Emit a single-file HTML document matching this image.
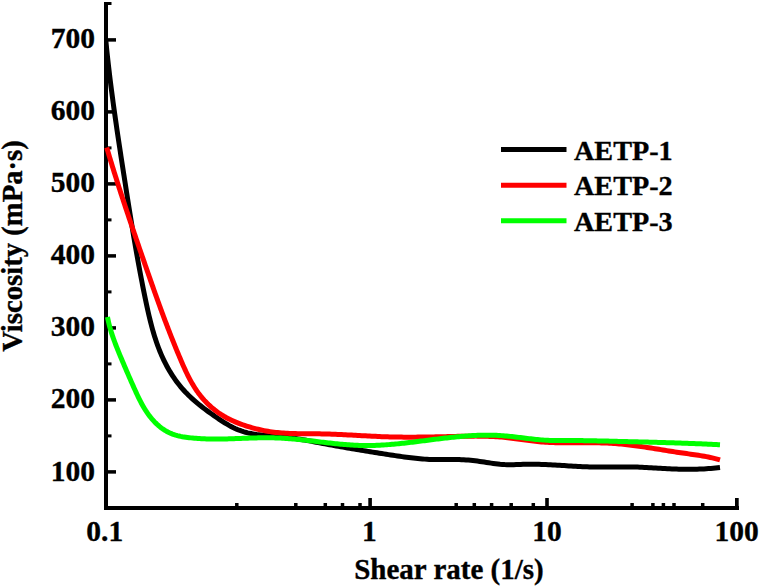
<!DOCTYPE html>
<html><head><meta charset="utf-8"><style>
html,body{margin:0;padding:0;background:#fff;width:760px;height:587px;overflow:hidden}
svg{display:block}
text{font-family:"Liberation Serif",serif;font-weight:bold;fill:#000;stroke:#000;stroke-width:0.35px}
</style></head><body>
<svg width="760" height="587" viewBox="0 0 760 587">
<!-- axes -->
<g fill="#000">
<rect x="104" y="2" width="4" height="508"/>
<rect x="104" y="506" width="635" height="4"/>
<rect x="108" y="2" width="3.5" height="3"/>
<!-- y major ticks -->
<rect x="108" y="38.15" width="8" height="3.5"/>
<rect x="108" y="110.15" width="8" height="3.5"/>
<rect x="108" y="182.15" width="8" height="3.5"/>
<rect x="108" y="254.15" width="8" height="3.5"/>
<rect x="108" y="326.15" width="8" height="3.5"/>
<rect x="108" y="398.15" width="8" height="3.5"/>
<rect x="108" y="470.15" width="8" height="3.5"/>
<!-- y minor ticks -->
<rect x="108" y="74.40" width="3.5" height="3"/>
<rect x="108" y="146.40" width="3.5" height="3"/>
<rect x="108" y="218.40" width="3.5" height="3"/>
<rect x="108" y="290.40" width="3.5" height="3"/>
<rect x="108" y="362.40" width="3.5" height="3"/>
<rect x="108" y="434.40" width="3.5" height="3"/>
<!-- x major ticks -->
<rect x="368.3" y="498" width="3.6" height="8"/>
<rect x="545.2" y="498" width="3.6" height="8"/>
<rect x="735" y="498" width="3.7" height="8"/>
<!-- x minor ticks -->
<rect x="235.05" y="503" width="3.5" height="3"/>
<rect x="294.05" y="503" width="3.5" height="3"/>
<rect x="323.55" y="503" width="3.5" height="3"/>
<rect x="340.75" y="503" width="3.5" height="3"/>
<rect x="358.25" y="503" width="3.5" height="3"/>
<rect x="454.45" y="503" width="3.5" height="3"/>
<rect x="472.55" y="503" width="3.5" height="3"/>
<rect x="489.85" y="503" width="3.5" height="3"/>
<rect x="509.45" y="503" width="3.5" height="3"/>
<rect x="531.55" y="503" width="3.5" height="3"/>
<rect x="630.35" y="503" width="3.5" height="3"/>
<rect x="651.15" y="503" width="3.5" height="3"/>
<rect x="661.65" y="503" width="3.5" height="3"/>
<rect x="672.25" y="503" width="3.5" height="3"/>
<rect x="700.95" y="503" width="3.5" height="3"/>
</g>
<!-- curves -->
<clipPath id="cp"><rect x="104" y="0" width="660" height="587"/></clipPath>
<g clip-path="url(#cp)" fill="none" stroke-width="5" stroke-linejoin="round" stroke-linecap="butt">
<path id="black" stroke="#000" d="M105.78,40.03 L106.00,42.30 L106.23,44.58 L106.46,46.86 L106.69,49.14 L106.92,51.41 L107.16,53.69 L107.41,55.97 L107.66,58.24 L107.91,60.52 L108.16,62.80 L108.42,65.08 L108.68,67.35 L108.95,69.63 L109.22,71.91 L109.49,74.18 L109.77,76.46 L110.04,78.73 L110.33,81.01 L110.61,83.29 L110.90,85.56 L111.19,87.84 L111.48,90.11 L111.78,92.39 L112.08,94.66 L112.38,96.94 L112.69,99.21 L112.99,101.49 L113.30,103.76 L113.62,106.04 L113.93,108.31 L114.25,110.59 L114.57,112.86 L114.89,115.13 L115.21,117.41 L115.53,119.68 L115.86,121.95 L116.19,124.23 L116.52,126.50 L116.85,128.77 L117.19,131.04 L117.52,133.32 L117.86,135.59 L118.20,137.86 L118.54,140.13 L118.88,142.40 L119.22,144.67 L119.56,146.94 L119.91,149.21 L120.25,151.48 L120.60,153.75 L120.95,156.02 L121.30,158.29 L121.65,160.56 L122.00,162.82 L122.35,165.09 L122.70,167.36 L123.05,169.63 L123.40,171.89 L123.75,174.16 L124.11,176.42 L124.46,178.69 L124.81,180.96 L125.17,183.22 L125.52,185.49 L125.87,187.75 L126.23,190.01 L126.58,192.28 L126.94,194.54 L127.29,196.80 L127.65,199.07 L128.01,201.33 L128.37,203.59 L128.73,205.85 L129.09,208.11 L129.45,210.38 L129.81,212.64 L130.18,214.90 L130.54,217.16 L130.91,219.42 L131.28,221.68 L131.65,223.94 L132.02,226.20 L132.39,228.46 L132.77,230.72 L133.14,232.97 L133.52,235.23 L133.90,237.49 L134.29,239.75 L134.67,242.01 L135.06,244.27 L135.45,246.53 L135.84,248.78 L136.24,251.04 L136.63,253.30 L137.04,255.56 L137.44,257.81 L137.84,260.07 L138.25,262.33 L138.66,264.59 L139.08,266.84 L139.50,269.10 L139.92,271.36 L140.34,273.61 L140.77,275.87 L141.20,278.13 L141.64,280.38 L142.08,282.64 L142.52,284.90 L142.96,287.15 L143.41,289.41 L143.87,291.67 L144.33,293.92 L144.79,296.18 L145.25,298.44 L145.73,300.70 L146.20,302.95 L146.68,305.21 L147.17,307.46 L147.66,309.72 L148.17,311.97 L148.68,314.22 L149.21,316.46 L149.74,318.70 L150.29,320.94 L150.86,323.17 L151.44,325.40 L152.03,327.62 L152.65,329.83 L153.28,332.04 L153.93,334.24 L154.60,336.43 L155.30,338.61 L156.01,340.79 L156.75,342.95 L157.52,345.11 L158.31,347.25 L159.13,349.38 L159.97,351.50 L160.85,353.61 L161.75,355.70 L162.69,357.78 L163.65,359.85 L164.66,361.91 L165.69,363.94 L166.76,365.96 L167.86,367.97 L169.00,369.95 L170.16,371.92 L171.37,373.86 L172.61,375.79 L173.88,377.69 L175.18,379.56 L176.52,381.41 L177.90,383.24 L179.31,385.04 L180.75,386.81 L182.23,388.55 L183.75,390.26 L185.30,391.94 L186.89,393.58 L188.50,395.20 L190.15,396.79 L191.83,398.35 L193.54,399.88 L195.27,401.39 L197.03,402.88 L198.81,404.34 L200.61,405.78 L202.43,407.20 L204.26,408.61 L206.11,409.99 L207.97,411.37 L209.84,412.72 L211.73,414.06 L213.62,415.40 L215.51,416.72 L217.41,418.03 L219.31,419.32 L221.23,420.60 L223.15,421.84 L225.09,423.06 L227.04,424.23 L229.01,425.37 L231.00,426.45 L233.00,427.49 L235.03,428.46 L237.08,429.37 L239.16,430.21 L241.27,430.97 L243.41,431.66 L245.57,432.28 L247.76,432.83 L249.97,433.32 L252.20,433.76 L254.44,434.14 L256.71,434.49 L258.99,434.79 L261.28,435.06 L263.58,435.30 L265.90,435.52 L268.21,435.72 L270.54,435.90 L272.86,436.09 L275.18,436.27 L277.51,436.45 L279.83,436.64 L282.14,436.85 L284.45,437.07 L286.74,437.32 L289.03,437.60 L291.31,437.90 L293.58,438.22 L295.84,438.56 L298.10,438.92 L300.35,439.29 L302.59,439.68 L304.84,440.08 L307.08,440.49 L309.31,440.91 L311.55,441.33 L313.79,441.76 L316.02,442.19 L318.26,442.62 L320.50,443.04 L322.74,443.47 L324.99,443.89 L327.24,444.31 L329.49,444.73 L331.74,445.14 L334.00,445.55 L336.25,445.95 L338.51,446.36 L340.77,446.76 L343.03,447.16 L345.30,447.55 L347.56,447.95 L349.83,448.34 L352.10,448.72 L354.37,449.11 L356.64,449.49 L358.91,449.87 L361.18,450.25 L363.45,450.62 L365.72,451.00 L367.99,451.37 L370.26,451.73 L372.54,452.10 L374.81,452.46 L377.08,452.82 L379.35,453.18 L381.62,453.54 L383.89,453.89 L386.16,454.25 L388.42,454.60 L390.69,454.95 L392.95,455.29 L395.22,455.64 L397.48,455.97 L399.74,456.30 L402.01,456.63 L404.27,456.94 L406.53,457.25 L408.80,457.54 L411.06,457.81 L413.33,458.08 L415.60,458.33 L417.87,458.56 L420.14,458.77 L422.41,458.96 L424.69,459.13 L426.97,459.27 L429.25,459.40 L431.54,459.49 L433.83,459.56 L436.12,459.60 L438.42,459.62 L440.72,459.62 L443.02,459.60 L445.33,459.57 L447.63,459.54 L449.94,459.52 L452.25,459.50 L454.55,459.50 L456.85,459.52 L459.15,459.57 L461.45,459.65 L463.74,459.77 L466.03,459.92 L468.32,460.10 L470.61,460.30 L472.89,460.54 L475.17,460.80 L477.44,461.09 L479.72,461.40 L481.99,461.73 L484.26,462.08 L486.53,462.43 L488.80,462.78 L491.06,463.13 L493.33,463.46 L495.60,463.76 L497.87,464.04 L500.14,464.28 L502.42,464.47 L504.69,464.61 L506.98,464.70 L509.26,464.73 L511.55,464.72 L513.84,464.68 L516.13,464.61 L518.42,464.53 L520.72,464.44 L523.01,464.36 L525.31,464.30 L527.60,464.25 L529.89,464.23 L532.18,464.23 L534.47,464.25 L536.77,464.28 L539.06,464.33 L541.35,464.40 L543.63,464.48 L545.92,464.57 L548.21,464.68 L550.50,464.79 L552.79,464.91 L555.08,465.04 L557.36,465.17 L559.65,465.31 L561.94,465.45 L564.23,465.60 L566.51,465.74 L568.80,465.88 L571.09,466.02 L573.37,466.16 L575.66,466.29 L577.95,466.42 L580.24,466.53 L582.53,466.64 L584.81,466.74 L587.10,466.83 L589.39,466.90 L591.68,466.96 L593.97,467.00 L596.26,467.03 L598.55,467.05 L600.84,467.06 L603.14,467.06 L605.43,467.05 L607.72,467.03 L610.01,467.01 L612.30,466.99 L614.60,466.97 L616.89,466.94 L619.18,466.93 L621.47,466.91 L623.77,466.91 L626.06,466.91 L628.35,466.92 L630.64,466.94 L632.94,466.98 L635.23,467.03 L637.52,467.10 L639.81,467.19 L642.10,467.29 L644.39,467.40 L646.68,467.53 L648.97,467.66 L651.27,467.80 L653.56,467.94 L655.85,468.08 L658.14,468.22 L660.43,468.36 L662.72,468.49 L665.02,468.61 L667.31,468.73 L669.60,468.83 L671.89,468.93 L674.19,469.02 L676.48,469.09 L678.77,469.16 L681.07,469.21 L683.36,469.25 L685.65,469.28 L687.94,469.29 L690.24,469.28 L692.53,469.26 L694.82,469.22 L697.11,469.17 L699.40,469.10 L701.69,469.00 L703.98,468.89 L706.27,468.76 L708.56,468.60 L710.85,468.43 L713.14,468.23 L715.43,468.00 L717.72,467.75 L720.00,467.48"/>
<path id="red" stroke="#f00" d="M106.75,147.53 L107.31,149.45 L107.87,151.36 L108.44,153.28 L109.01,155.19 L109.58,157.11 L110.16,159.02 L110.73,160.93 L111.32,162.84 L111.90,164.75 L112.49,166.67 L113.07,168.58 L113.67,170.49 L114.26,172.40 L114.86,174.31 L115.46,176.21 L116.06,178.12 L116.66,180.03 L117.27,181.94 L117.87,183.85 L118.48,185.75 L119.10,187.66 L119.71,189.56 L120.33,191.47 L120.95,193.38 L121.57,195.28 L122.19,197.18 L122.81,199.09 L123.44,200.99 L124.07,202.89 L124.69,204.80 L125.32,206.70 L125.96,208.60 L126.59,210.50 L127.23,212.40 L127.86,214.30 L128.50,216.20 L129.14,218.10 L129.78,220.00 L130.42,221.90 L131.06,223.80 L131.71,225.70 L132.35,227.59 L133.00,229.49 L133.64,231.39 L134.29,233.28 L134.94,235.18 L135.59,237.07 L136.24,238.97 L136.89,240.86 L137.54,242.76 L138.19,244.65 L138.84,246.55 L139.49,248.44 L140.14,250.33 L140.80,252.22 L141.45,254.12 L142.10,256.01 L142.76,257.90 L143.41,259.79 L144.06,261.68 L144.72,263.57 L145.37,265.46 L146.03,267.35 L146.68,269.24 L147.34,271.12 L147.99,273.01 L148.65,274.90 L149.31,276.78 L149.96,278.67 L150.62,280.56 L151.28,282.44 L151.94,284.33 L152.61,286.21 L153.27,288.09 L153.94,289.98 L154.60,291.86 L155.27,293.74 L155.94,295.62 L156.61,297.50 L157.29,299.38 L157.96,301.26 L158.64,303.14 L159.32,305.01 L160.00,306.89 L160.69,308.77 L161.38,310.64 L162.07,312.52 L162.76,314.39 L163.46,316.26 L164.15,318.14 L164.85,320.01 L165.56,321.88 L166.27,323.75 L166.98,325.62 L167.69,327.49 L168.41,329.35 L169.13,331.22 L169.85,333.08 L170.58,334.95 L171.31,336.81 L172.05,338.68 L172.79,340.54 L173.53,342.40 L174.28,344.26 L175.03,346.12 L175.79,347.97 L176.55,349.83 L177.32,351.69 L178.09,353.54 L178.86,355.40 L179.64,357.25 L180.43,359.10 L181.22,360.95 L182.01,362.80 L182.82,364.64 L183.63,366.48 L184.45,368.32 L185.29,370.15 L186.15,371.96 L187.01,373.77 L187.90,375.57 L188.81,377.36 L189.73,379.13 L190.68,380.88 L191.66,382.62 L192.66,384.35 L193.69,386.05 L194.75,387.73 L195.84,389.40 L196.96,391.04 L198.11,392.65 L199.30,394.24 L200.52,395.81 L201.78,397.34 L203.06,398.85 L204.38,400.34 L205.74,401.79 L207.12,403.21 L208.53,404.60 L209.98,405.95 L211.46,407.27 L212.97,408.56 L214.51,409.81 L216.08,411.02 L217.68,412.20 L219.31,413.34 L220.96,414.43 L222.65,415.49 L224.37,416.51 L226.11,417.49 L227.87,418.43 L229.66,419.34 L231.47,420.21 L233.30,421.05 L235.14,421.85 L237.00,422.63 L238.88,423.37 L240.77,424.08 L242.67,424.77 L244.59,425.42 L246.51,426.05 L248.44,426.65 L250.37,427.23 L252.31,427.79 L254.25,428.32 L256.20,428.82 L258.15,429.30 L260.10,429.75 L262.06,430.18 L264.02,430.58 L265.98,430.95 L267.94,431.30 L269.91,431.62 L271.88,431.91 L273.86,432.17 L275.83,432.40 L277.81,432.61 L279.79,432.80 L281.77,432.96 L283.75,433.10 L285.74,433.23 L287.72,433.33 L289.71,433.42 L291.70,433.50 L293.69,433.56 L295.68,433.61 L297.68,433.65 L299.67,433.68 L301.67,433.71 L303.66,433.73 L305.66,433.74 L307.66,433.75 L309.66,433.76 L311.65,433.77 L313.65,433.79 L315.65,433.80 L317.65,433.83 L319.65,433.85 L321.65,433.89 L323.65,433.93 L325.65,433.98 L327.65,434.04 L329.66,434.10 L331.66,434.17 L333.66,434.25 L335.66,434.33 L337.66,434.42 L339.66,434.51 L341.66,434.60 L343.66,434.70 L345.66,434.80 L347.66,434.90 L349.66,435.00 L351.66,435.11 L353.66,435.22 L355.66,435.33 L357.66,435.44 L359.67,435.55 L361.67,435.66 L363.67,435.76 L365.67,435.87 L367.67,435.98 L369.67,436.08 L371.67,436.18 L373.67,436.28 L375.67,436.37 L377.67,436.46 L379.67,436.55 L381.67,436.63 L383.67,436.71 L385.67,436.78 L387.68,436.85 L389.68,436.90 L391.68,436.96 L393.68,437.00 L395.68,437.04 L397.68,437.07 L399.68,437.10 L401.68,437.12 L403.68,437.14 L405.68,437.15 L407.68,437.16 L409.68,437.16 L411.68,437.15 L413.68,437.15 L415.68,437.13 L417.68,437.12 L419.68,437.10 L421.68,437.08 L423.68,437.05 L425.69,437.02 L427.69,436.99 L429.69,436.95 L431.69,436.92 L433.69,436.88 L435.69,436.84 L437.69,436.80 L439.69,436.76 L441.69,436.71 L443.69,436.67 L445.70,436.63 L447.70,436.58 L449.70,436.53 L451.70,436.49 L453.70,436.45 L455.70,436.40 L457.71,436.36 L459.71,436.32 L461.71,436.28 L463.71,436.24 L465.71,436.21 L467.72,436.18 L469.72,436.15 L471.72,436.14 L473.72,436.13 L475.72,436.12 L477.72,436.13 L479.72,436.14 L481.72,436.17 L483.72,436.20 L485.72,436.25 L487.72,436.30 L489.72,436.38 L491.71,436.46 L493.71,436.56 L495.70,436.67 L497.70,436.81 L499.69,436.95 L501.68,437.12 L503.67,437.30 L505.66,437.50 L507.65,437.72 L509.64,437.95 L511.63,438.19 L513.61,438.44 L515.60,438.70 L517.58,438.96 L519.57,439.23 L521.55,439.50 L523.54,439.77 L525.52,440.04 L527.51,440.30 L529.49,440.56 L531.48,440.81 L533.46,441.06 L535.45,441.29 L537.44,441.51 L539.43,441.72 L541.41,441.91 L543.40,442.08 L545.39,442.23 L547.38,442.36 L549.38,442.47 L551.37,442.55 L553.37,442.62 L555.36,442.67 L557.36,442.70 L559.35,442.73 L561.35,442.74 L563.35,442.74 L565.35,442.73 L567.34,442.72 L569.34,442.71 L571.34,442.69 L573.34,442.68 L575.34,442.67 L577.34,442.66 L579.33,442.65 L581.33,442.64 L583.33,442.64 L585.33,442.64 L587.33,442.64 L589.32,442.65 L591.32,442.67 L593.32,442.70 L595.31,442.73 L597.31,442.77 L599.31,442.82 L601.30,442.88 L603.30,442.94 L605.29,443.02 L607.28,443.11 L609.28,443.22 L611.27,443.33 L613.26,443.46 L615.25,443.60 L617.24,443.76 L619.23,443.93 L621.22,444.12 L623.21,444.31 L625.20,444.52 L627.18,444.75 L629.17,444.98 L631.16,445.22 L633.14,445.47 L635.13,445.73 L637.11,446.00 L639.10,446.28 L641.08,446.56 L643.07,446.85 L645.05,447.15 L647.03,447.45 L649.01,447.75 L651.00,448.06 L652.98,448.37 L654.96,448.69 L656.94,449.01 L658.92,449.33 L660.90,449.65 L662.88,449.97 L664.86,450.29 L666.84,450.60 L668.82,450.92 L670.80,451.23 L672.78,451.55 L674.76,451.85 L676.74,452.16 L678.72,452.46 L680.70,452.75 L682.69,453.04 L684.67,453.32 L686.64,453.60 L688.62,453.87 L690.60,454.15 L692.58,454.43 L694.56,454.72 L696.53,455.01 L698.50,455.31 L700.47,455.62 L702.44,455.95 L704.41,456.29 L706.37,456.66 L708.33,457.04 L710.29,457.44 L712.24,457.87 L714.19,458.33 L716.14,458.81 L718.08,459.33 L720.01,459.87"/>
<path id="green" stroke="#0f0" d="M107.48,316.98 L107.81,318.67 L108.16,320.36 L108.54,322.04 L108.94,323.71 L109.36,325.38 L109.81,327.04 L110.27,328.69 L110.76,330.35 L111.26,331.99 L111.78,333.63 L112.32,335.27 L112.87,336.90 L113.44,338.52 L114.02,340.14 L114.61,341.76 L115.21,343.37 L115.83,344.98 L116.45,346.59 L117.08,348.20 L117.72,349.80 L118.37,351.39 L119.03,352.99 L119.68,354.58 L120.35,356.17 L121.01,357.76 L121.68,359.34 L122.35,360.93 L123.02,362.51 L123.69,364.09 L124.36,365.67 L125.03,367.25 L125.71,368.83 L126.38,370.40 L127.06,371.98 L127.74,373.55 L128.42,375.12 L129.10,376.69 L129.79,378.26 L130.48,379.83 L131.17,381.40 L131.86,382.97 L132.56,384.54 L133.26,386.11 L133.96,387.68 L134.67,389.24 L135.38,390.81 L136.09,392.38 L136.82,393.94 L137.55,395.50 L138.29,397.06 L139.05,398.61 L139.82,400.16 L140.61,401.70 L141.42,403.23 L142.24,404.74 L143.10,406.25 L143.98,407.75 L144.88,409.23 L145.81,410.70 L146.78,412.15 L147.78,413.58 L148.80,414.99 L149.86,416.38 L150.95,417.74 L152.07,419.08 L153.22,420.38 L154.40,421.66 L155.61,422.89 L156.86,424.09 L158.13,425.25 L159.43,426.36 L160.76,427.43 L162.13,428.45 L163.52,429.42 L164.94,430.34 L166.39,431.20 L167.88,432.01 L169.39,432.75 L170.93,433.43 L172.50,434.05 L174.10,434.61 L175.72,435.12 L177.36,435.58 L179.02,435.98 L180.70,436.35 L182.39,436.68 L184.09,436.97 L185.80,437.23 L187.52,437.46 L189.24,437.68 L190.96,437.87 L192.68,438.04 L194.40,438.20 L196.12,438.35 L197.85,438.47 L199.57,438.59 L201.29,438.68 L203.02,438.77 L204.74,438.84 L206.46,438.90 L208.19,438.95 L209.91,438.99 L211.63,439.02 L213.36,439.03 L215.08,439.04 L216.81,439.04 L218.53,439.03 L220.25,439.01 L221.98,438.99 L223.70,438.96 L225.42,438.92 L227.15,438.88 L228.87,438.83 L230.60,438.78 L232.32,438.73 L234.04,438.67 L235.77,438.61 L237.49,438.55 L239.21,438.48 L240.94,438.42 L242.66,438.36 L244.38,438.29 L246.10,438.23 L247.83,438.17 L249.55,438.11 L251.27,438.05 L252.99,438.00 L254.71,437.95 L256.44,437.91 L258.16,437.87 L259.88,437.84 L261.60,437.81 L263.32,437.79 L265.04,437.78 L266.76,437.77 L268.48,437.78 L270.19,437.79 L271.91,437.81 L273.63,437.84 L275.35,437.89 L277.07,437.94 L278.78,438.01 L280.50,438.09 L282.21,438.18 L283.93,438.28 L285.65,438.39 L287.36,438.51 L289.07,438.64 L290.79,438.78 L292.50,438.92 L294.22,439.08 L295.93,439.24 L297.64,439.40 L299.36,439.57 L301.07,439.75 L302.78,439.93 L304.50,440.12 L306.21,440.31 L307.92,440.50 L309.63,440.70 L311.35,440.90 L313.06,441.10 L314.77,441.30 L316.48,441.51 L318.20,441.71 L319.91,441.91 L321.62,442.12 L323.33,442.32 L325.05,442.52 L326.76,442.72 L328.47,442.91 L330.19,443.10 L331.90,443.29 L333.61,443.47 L335.33,443.65 L337.04,443.83 L338.76,443.99 L340.47,444.15 L342.19,444.31 L343.90,444.46 L345.62,444.60 L347.34,444.73 L349.05,444.85 L350.77,444.96 L352.49,445.07 L354.21,445.16 L355.92,445.24 L357.64,445.32 L359.36,445.38 L361.08,445.43 L362.79,445.47 L364.51,445.49 L366.23,445.51 L367.94,445.51 L369.66,445.50 L371.38,445.47 L373.09,445.43 L374.81,445.39 L376.52,445.33 L378.24,445.26 L379.95,445.17 L381.67,445.08 L383.38,444.98 L385.09,444.87 L386.81,444.75 L388.52,444.62 L390.24,444.49 L391.95,444.35 L393.66,444.20 L395.38,444.04 L397.09,443.88 L398.80,443.71 L400.52,443.53 L402.23,443.35 L403.94,443.16 L405.66,442.97 L407.37,442.78 L409.08,442.58 L410.79,442.38 L412.51,442.17 L414.22,441.96 L415.93,441.75 L417.65,441.54 L419.36,441.32 L421.07,441.10 L422.78,440.88 L424.50,440.66 L426.21,440.44 L427.92,440.22 L429.63,440.00 L431.35,439.79 L433.06,439.57 L434.77,439.35 L436.48,439.13 L438.20,438.92 L439.91,438.71 L441.62,438.50 L443.33,438.30 L445.05,438.09 L446.76,437.90 L448.47,437.70 L450.18,437.51 L451.90,437.33 L453.61,437.15 L455.32,436.97 L457.03,436.80 L458.75,436.64 L460.46,436.49 L462.17,436.34 L463.89,436.20 L465.60,436.06 L467.31,435.94 L469.02,435.82 L470.74,435.71 L472.45,435.61 L474.16,435.52 L475.88,435.44 L477.59,435.37 L479.30,435.31 L481.02,435.26 L482.73,435.22 L484.45,435.19 L486.16,435.18 L487.87,435.17 L489.59,435.18 L491.30,435.21 L493.02,435.24 L494.73,435.29 L496.44,435.35 L498.16,435.43 L499.87,435.52 L501.59,435.63 L503.30,435.75 L505.02,435.89 L506.73,436.04 L508.45,436.20 L510.17,436.38 L511.88,436.56 L513.60,436.75 L515.31,436.95 L517.03,437.15 L518.74,437.36 L520.46,437.57 L522.18,437.78 L523.89,437.99 L525.61,438.20 L527.33,438.41 L529.04,438.62 L530.76,438.82 L532.48,439.02 L534.19,439.21 L535.91,439.39 L537.63,439.56 L539.35,439.73 L541.06,439.88 L542.78,440.01 L544.50,440.13 L546.22,440.24 L547.93,440.33 L549.65,440.40 L551.37,440.46 L553.09,440.50 L554.81,440.54 L556.52,440.56 L558.24,440.57 L559.96,440.57 L561.68,440.57 L563.40,440.57 L565.12,440.56 L566.84,440.56 L568.56,440.55 L570.28,440.55 L572.00,440.55 L573.72,440.55 L575.44,440.56 L577.16,440.56 L578.88,440.58 L580.60,440.59 L582.32,440.61 L584.04,440.63 L585.76,440.66 L587.48,440.68 L589.21,440.71 L590.93,440.74 L592.65,440.77 L594.37,440.81 L596.09,440.84 L597.82,440.88 L599.54,440.92 L601.26,440.96 L602.98,441.00 L604.70,441.04 L606.43,441.08 L608.15,441.12 L609.87,441.16 L611.59,441.21 L613.32,441.25 L615.04,441.29 L616.76,441.34 L618.48,441.38 L620.20,441.42 L621.93,441.46 L623.65,441.51 L625.37,441.55 L627.09,441.59 L628.81,441.63 L630.53,441.68 L632.26,441.72 L633.98,441.76 L635.70,441.80 L637.42,441.85 L639.14,441.89 L640.86,441.93 L642.58,441.98 L644.30,442.02 L646.02,442.07 L647.75,442.11 L649.47,442.16 L651.19,442.20 L652.91,442.25 L654.63,442.29 L656.35,442.34 L658.07,442.39 L659.79,442.44 L661.51,442.49 L663.23,442.54 L664.95,442.59 L666.67,442.64 L668.39,442.69 L670.11,442.74 L671.83,442.79 L673.55,442.85 L675.28,442.90 L677.00,442.96 L678.72,443.01 L680.44,443.07 L682.16,443.13 L683.88,443.19 L685.60,443.25 L687.32,443.31 L689.04,443.38 L690.76,443.44 L692.48,443.51 L694.20,443.57 L695.92,443.64 L697.64,443.71 L699.36,443.78 L701.08,443.85 L702.80,443.92 L704.52,444.00 L706.24,444.07 L707.96,444.15 L709.68,444.23 L711.40,444.31 L713.12,444.39 L714.84,444.48 L716.56,444.56 L718.28,444.65 L720.00,444.74"/>
</g>
<!-- y labels -->
<g font-size="29.5" text-anchor="end">
<text x="95" y="48.0">700</text>
<text x="95" y="120.1">600</text>
<text x="95" y="192.2">500</text>
<text x="95" y="264.2">400</text>
<text x="95" y="336.3">300</text>
<text x="95" y="408.4">200</text>
<text x="95" y="480.5">100</text>
</g>
<!-- x labels -->
<g font-size="29.5" text-anchor="middle">
<text x="104.8" y="540.8">0.1</text>
<text x="369.3" y="541">1</text>
<text x="547" y="541">10</text>
<text x="736.6" y="540.8">100</text>
</g>
<text x="449" y="579.3" font-size="29" text-anchor="middle">Shear rate (1/s)</text>
<text transform="translate(22.4,246) rotate(-90)" font-size="28.7" text-anchor="middle">Viscosity (mPa·s)</text>
<!-- legend -->
<g stroke-width="5">
<line x1="501" y1="149.5" x2="566.5" y2="149.5" stroke="#000"/>
<line x1="501" y1="185.2" x2="566.5" y2="185.2" stroke="#f00"/>
<line x1="501" y1="220.8" x2="566.5" y2="220.8" stroke="#0f0"/>
</g>
<g font-size="28.2">
<text x="574" y="159.5">AETP-1</text>
<text x="574" y="195.2">AETP-2</text>
<text x="574" y="231">AETP-3</text>
</g>
</svg>
</body></html>
